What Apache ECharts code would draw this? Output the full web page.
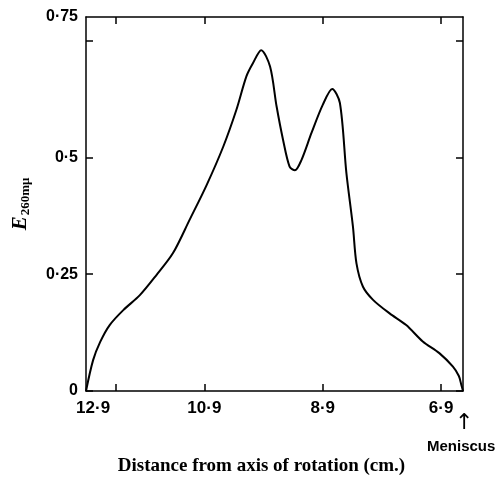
<!DOCTYPE html>
<html>
<head>
<meta charset="utf-8">
<script src="https://cdn.jsdelivr.net/npm/echarts@6/dist/echarts.min.js"></script>
<style>html,body{margin:0;padding:0;background:#fff}#c{width:499px;height:485px}</style>
</head>
<body>
<div id="c"></div>
<script>
// Distance from axis of rotation (cm.)
const distance = [12.9, 12.78, 12.66, 12.5, 12.27, 11.99, 11.71, 11.43, 11.15, 10.86, 10.58, 10.36, 10.19, 10.08, 9.94, 9.79, 9.68, 9.57, 9.46, 9.37, 9.26, 9.09, 8.9, 8.74, 8.61, 8.5, 8.39, 8.33, 8.22, 8.05, 7.77, 7.49, 7.21, 6.93, 6.7, 6.6, 6.56, 6.53];
// E260mμ
const absorbance = [0.0, 0.066, 0.105, 0.141, 0.173, 0.205, 0.248, 0.295, 0.366, 0.441, 0.523, 0.601, 0.673, 0.701, 0.729, 0.694, 0.609, 0.537, 0.48, 0.472, 0.494, 0.552, 0.612, 0.646, 0.616, 0.466, 0.352, 0.273, 0.223, 0.195, 0.166, 0.141, 0.106, 0.081, 0.052, 0.032, 0.014, 0.0];
const xTickValues = [12.4, 10.9, 8.9, 6.9];
const xLabelValues = [12.78, 10.9, 8.9, 6.9];
const xLabelTexts = ['12·9', '10·9', '8·9', '6·9'];
const yTickValues = [0, 0.25, 0.5, 0.75];
const yLabelValues = [0, 0.25, 0.5, 0.8];
const yLabelTexts = ['0', '0·25', '0·5', '0·75'];
const xMin = 6.53, xMax = 12.9, yMin = 0, yMax = 0.8;

const chart = echarts.init(document.getElementById('c'));
const frameLine = {show: true, onZero: false, lineStyle: {color: '#000', width: 1.5}};
const tick = (vals) => ({show: true, inside: true, length: 7, lineStyle: {color: '#000', width: 1.5}, customValues: vals});
const pick = (vals, texts) => v => { const i = vals.findIndex(a => Math.abs(a - v) < 1e-6); return i < 0 ? '' : texts[i]; };
chart.setOption({
  animation: false,
  grid: {left: 86, right: 36, top: 17, bottom: 94},
  xAxis: [{
    type: 'value', inverse: true, min: xMin, max: xMax, position: 'bottom',
    axisLine: frameLine, splitLine: {show: false},
    axisTick: tick(xTickValues),
    axisLabel: {
      customValues: xLabelValues, margin: 9,
      fontFamily: 'Liberation Sans', fontWeight: 'bold', fontSize: 17, color: '#000',
      formatter: pick(xLabelValues, xLabelTexts)
    },
    name: 'Distance from axis of rotation (cm.)', nameLocation: 'middle', nameGap: 66,
    nameTextStyle: {fontFamily: 'Liberation Serif', fontWeight: 'bold', fontSize: 19, color: '#000', padding: [0, 26, 0, 0]}
  }, {
    type: 'value', inverse: true, min: xMin, max: xMax, position: 'top',
    axisLine: frameLine, splitLine: {show: false},
    axisTick: tick(xTickValues), axisLabel: {show: false}
  }],
  yAxis: [{
    type: 'value', min: yMin, max: yMax, position: 'left',
    axisLine: frameLine, splitLine: {show: false},
    axisTick: tick(yTickValues),
    axisLabel: {
      customValues: yLabelValues, margin: 8,
      fontFamily: 'Liberation Sans', fontWeight: 'bold', fontSize: 16, color: '#000',
      formatter: pick(yLabelValues, yLabelTexts)
    },
    name: '{e|E}{s|260mμ}', nameLocation: 'middle', nameGap: 52, nameRotate: 90,
    nameTextStyle: {
      color: '#000',
      rich: {
        e: {fontFamily: 'Liberation Serif', fontStyle: 'italic', fontWeight: 'bold', fontSize: 21, color: '#000', lineHeight: 26},
        s: {fontFamily: 'Liberation Serif', fontWeight: 'bold', fontSize: 13, color: '#000', padding: [10, 0, 0, 1], lineHeight: 26}
      }
    }
  }, {
    type: 'value', min: yMin, max: yMax, position: 'right',
    axisLine: frameLine, splitLine: {show: false},
    axisTick: tick(yTickValues), axisLabel: {show: false}
  }],
  graphic: [
    {type: 'text', left: 455, top: 412, style: {text: '↑', fontFamily: 'DejaVu Sans', fontSize: 22, fill: '#000'}},
    {type: 'text', left: 427, top: 439, style: {text: 'Meniscus', fontFamily: 'Liberation Sans', fontSize: 15, fontWeight: 'bold', fill: '#000'}}
  ],
  series: [{
    type: 'line', smooth: 0.3, showSymbol: false,
    lineStyle: {color: '#000', width: 2},
    data: distance.map((d, i) => [d, absorbance[i]])
  }]
});
</script>
</body>
</html>
